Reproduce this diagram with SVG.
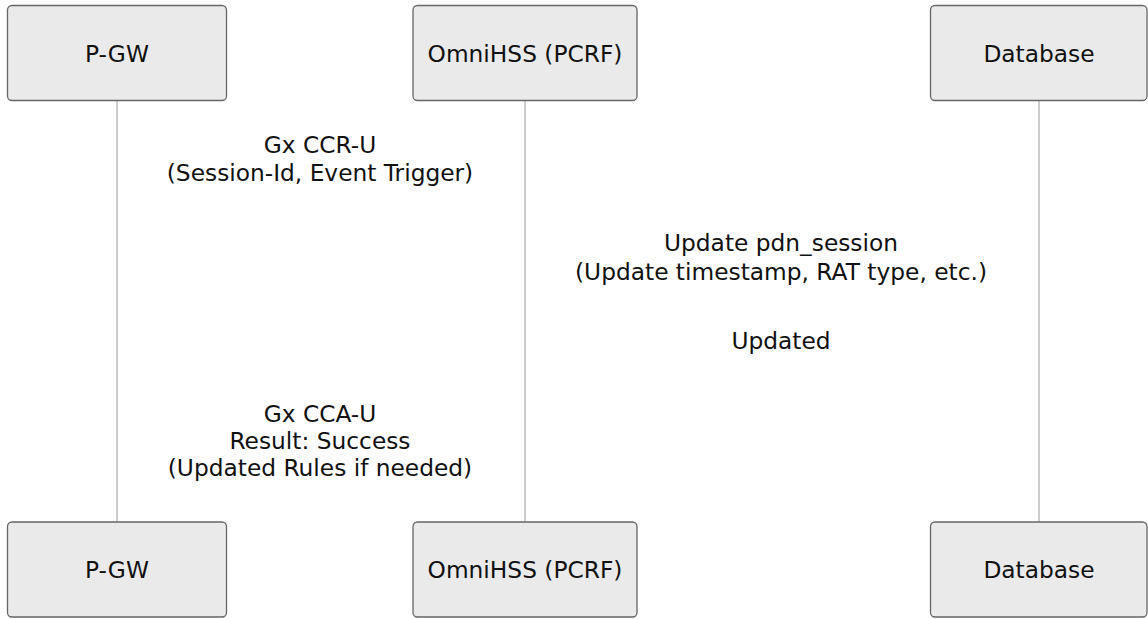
<svg xmlns="http://www.w3.org/2000/svg" width="1148" height="619" viewBox="0 0 1148 619">
<style>
.box{fill:#eaeaea;stroke:#666;stroke-width:1.3}
.life{stroke:#aaa;stroke-width:1.2}
text{font-family:"DejaVu Sans",sans-serif;font-size:23.3px;fill:#111;text-anchor:middle}
</style>
<rect width="1148" height="619" fill="#fff"/>
<g id="lifelines">
<line class="life" x1="117" y1="100" x2="117" y2="522"/>
<line class="life" x1="525" y1="100" x2="525" y2="522"/>
<line class="life" x1="1039" y1="100" x2="1039" y2="522"/>
</g>
<g id="pgw-top"><rect class="box" x="7.5" y="5.5" width="219" height="95" rx="4.5"/><text x="117" y="61.5">P-GW</text></g>
<g id="pcrf-top"><rect class="box" x="413" y="5.5" width="224" height="95" rx="4.5"/><text x="525" y="61.5">OmniHSS (PCRF)</text></g>
<g id="db-top"><rect class="box" x="930.5" y="5.5" width="216.5" height="95" rx="4.5"/><text x="1039" y="61.5">Database</text></g>
<g id="pgw-bottom"><rect class="box" x="7.5" y="522" width="219" height="95" rx="4.5"/><text x="117" y="578">P-GW</text></g>
<g id="pcrf-bottom"><rect class="box" x="413" y="522" width="224" height="95" rx="4.5"/><text x="525" y="578">OmniHSS (PCRF)</text></g>
<g id="db-bottom"><rect class="box" x="930.5" y="522" width="216.5" height="95" rx="4.5"/><text x="1039" y="578">Database</text></g>
<g id="messages">
<text x="320" y="152.5">Gx CCR-U</text>
<text x="320" y="180.5">(Session-Id, Event Trigger)</text>
<text x="781" y="251">Update pdn_session</text>
<text x="781" y="279.5">(Update timestamp, RAT type, etc.)</text>
<text x="781" y="349">Updated</text>
<text x="320" y="421.5">Gx CCA-U</text>
<text x="320" y="448.5">Result: Success</text>
<text x="320" y="476">(Updated Rules if needed)</text>
</g>
</svg>
